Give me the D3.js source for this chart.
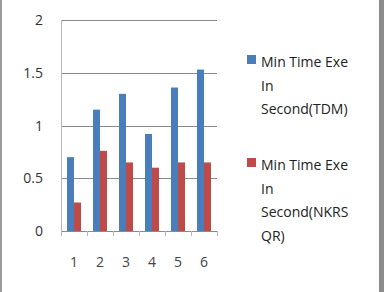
<!DOCTYPE html>
<html>
<head>
<meta charset="utf-8">
<script src="https://cdn.jsdelivr.net/npm/d3@7"></script>
<style>
  body { margin: 0; background: #fff; }
  svg { display: block; }
</style>
</head>
<body>
<svg id="chart"></svg>
<script>
// data
var categories = ["1", "2", "3", "4", "5", "6"];
var tdm = [0.70, 1.15, 1.30, 0.92, 1.36, 1.53];
var nkrsqr = [0.27, 0.76, 0.65, 0.60, 0.65, 0.65];
var yTicks = [0, 0.5, 1, 1.5, 2];
var seriesNames = [
    ["Min Time Exe", "In", "Second(TDM)"],
    ["Min Time Exe", "In", "Second(NKRS", "QR)"]
];
var colors = ["#4a7ebb", "#be4b48"];

var W = 384, H = 292;
var margin = {top: 20, left: 61, right: 167, bottom: 61};
var width = W - margin.left - margin.right,
    height = H - margin.top - margin.bottom;

var svg = d3.select("#chart").attr("width", W).attr("height", H);

// frame edges of the screenshot
svg.append("rect").attr("x", 0).attr("y", 0).attr("width", 2).attr("height", H).attr("fill", "#9a9a9a");
svg.append("rect").attr("x", 379).attr("y", 0).attr("width", 5).attr("height", H).attr("fill", "#8c8c8c");

var g = svg.append("g")
    .attr("transform", "translate(" + margin.left + "," + margin.top + ")");

var x = d3.scaleBand().domain(categories).range([0, width]);
var y = d3.scaleLinear().domain([0, 2]).range([height, 0]);

// gridlines
g.selectAll(".grid")
    .data(yTicks)
    .enter().append("line")
    .attr("x1", 0).attr("x2", width)
    .attr("y1", function(d) { return Math.round(y(d)) + 0.5; })
    .attr("y2", function(d) { return Math.round(y(d)) + 0.5; })
    .attr("stroke", "#8a8a8a")
    .attr("stroke-width", 1.2);

// y axis line
g.append("line")
    .attr("x1", 0.5).attr("x2", 0.5)
    .attr("y1", 0).attr("y2", height + 5)
    .attr("stroke", "#b8b8b8");

// y labels
g.selectAll(".ylab")
    .data(yTicks)
    .enter().append("text")
    .attr("x", -18)
    .attr("y", function(d) { return y(d) + 5; })
    .attr("text-anchor", "end")
    .style("font-family", "'Open Sans', sans-serif")
    .style("font-size", "14px")
    .attr("fill", "#333")
    .text(function(d) { return d; });

// x ticks
var tickPos = categories.map(function(c) { return x(c); }).concat([width]);
g.selectAll(".xtick")
    .data(tickPos)
    .enter().append("line")
    .attr("x1", function(d) { return Math.round(d) + 0.5; })
    .attr("x2", function(d) { return Math.round(d) + 0.5; })
    .attr("y1", height).attr("y2", height + 5)
    .attr("stroke", "#b8b8b8");

// x labels
g.selectAll(".xlab")
    .data(categories)
    .enter().append("text")
    .attr("x", function(d) { return x(d) + x.bandwidth() / 2; })
    .attr("y", height + 36)
    .attr("text-anchor", "middle")
    .style("font-family", "'Open Sans', sans-serif")
    .style("font-size", "14px")
    .attr("fill", "#444")
    .text(function(d) { return d; });

// bars
var barW = 7;
[tdm, nkrsqr].forEach(function(vals, si) {
    g.selectAll(".bar" + si)
        .data(vals)
        .enter().append("rect")
        .attr("x", function(d, i) { return x(categories[i]) + x.bandwidth() / 2 - barW + si * barW; })
        .attr("y", function(d) { return y(d); })
        .attr("width", barW)
        .attr("height", function(d) { return height - y(d); })
        .attr("fill", colors[si]);
});

// legend
var legendTop = [55, 158];
seriesNames.forEach(function(lines, si) {
    var lg = svg.append("g").attr("transform", "translate(247," + legendTop[si] + ")");
    lg.append("rect").attr("width", 9).attr("height", 9).attr("fill", colors[si]);
    lines.forEach(function(t, li) {
        lg.append("text")
            .attr("x", 14)
            .attr("y", 12 + li * 23.5)
            .style("font-family", "'Open Sans', sans-serif")
            .style("font-size", "14px")
            .attr("fill", "#222")
            .text(t);
    });
});
</script>
</body>
</html>
